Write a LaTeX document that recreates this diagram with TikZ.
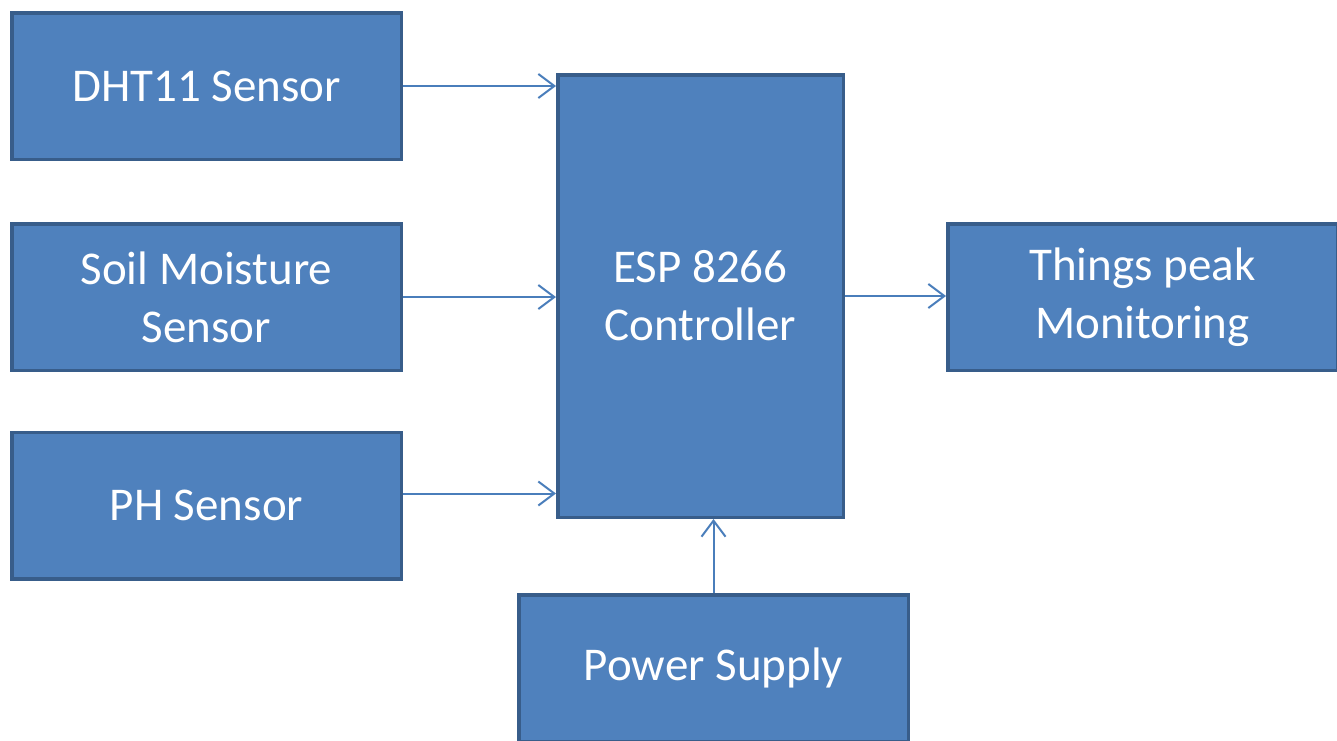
\documentclass[tikz,border=0pt]{standalone}
\usepackage{fontspec}
\setmainfont{Carlito}
\usetikzlibrary{arrows.meta}
\definecolor{boxfill}{HTML}{4F81BD}
\definecolor{boxline}{HTML}{385D8A}
\definecolor{arrowcol}{HTML}{4A7EBB}
\begin{document}
\begin{tikzpicture}[x=1pt,y=-1pt,
  blockbox/.style={draw=boxline, fill=boxfill, line width=3.5pt, text=white,
    minimum width=389.5pt, minimum height=146.5pt, align=center,
    font=\fontsize{47}{58}\selectfont, inner sep=0pt},
  conn/.style={draw=arrowcol, line width=2pt, -{Straight Barb[length=16pt,width=24pt,line width=2pt]}}]
\useasboundingbox (0,0) rectangle (1337,740);
\node[blockbox] (dht) at (206.5,86) {DHT11 Sensor};
\node[blockbox] (soil) at (206.5,297) {Soil Moisture\\Sensor};
\node[blockbox] (ph) at (206.5,505.5) {PH Sensor};
\node[blockbox, minimum width=285.5pt, minimum height=442.5pt] (esp) at (700.5,296) {ESP 8266\\Controller};
\node[blockbox] (things) at (1142.5,297) {Things peak\\Monitoring};
\node[blockbox] (power) at (713.5,668) {Power Supply};
\draw[conn] (dht.east) -- (dht.east -| esp.west);
\draw[conn] (soil.east) -- (soil.east -| esp.west);
\draw[conn] ([yshift=12pt]ph.east) -- ([yshift=12pt]ph.east -| esp.west);
\draw[conn] (esp.east) -- (esp.east -| things.west);
\draw[conn] (power.north) -- (power.north |- esp.south);
\end{tikzpicture}
\end{document}
